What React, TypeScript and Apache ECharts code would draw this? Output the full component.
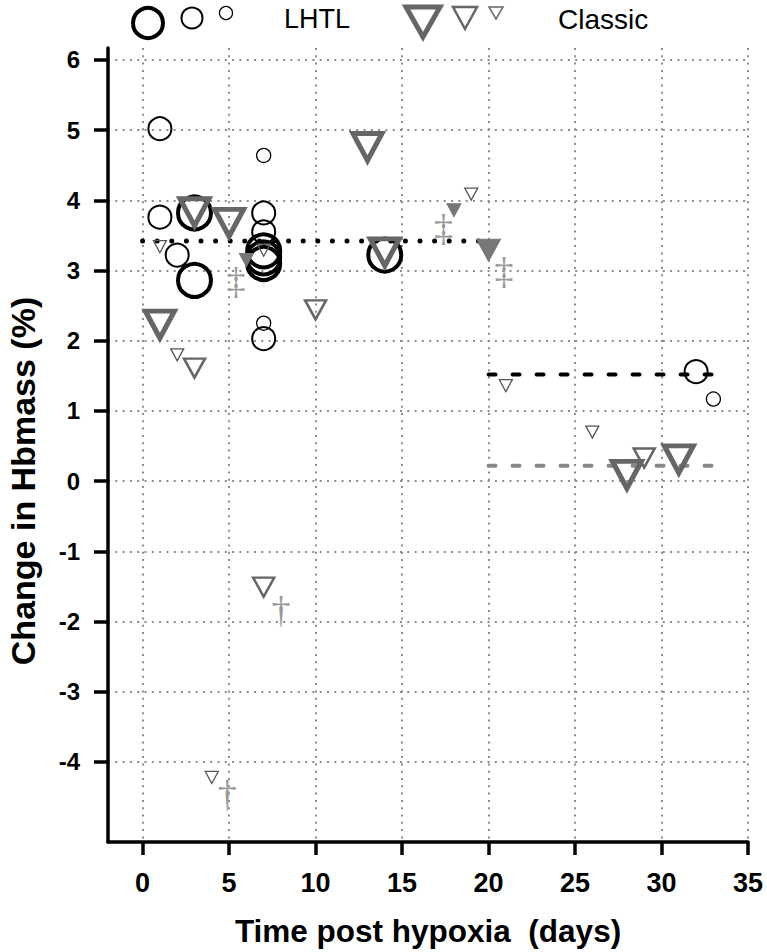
import React, { useEffect, useRef } from "react";
import * as echarts from "echarts";

// ---- data ----
const xTicks = [0, 5, 10, 15, 20, 25, 30, 35];
const yTicks = [-4, -3, -2, -1, 0, 1, 2, 3, 4, 5, 6];

const lhtlLarge = [[3, 3.82], [3, 2.86], [7, 3.28], [7, 3.18], [7, 3.1], [14, 3.22]];
const lhtlMedium = [[1, 5.02], [1, 3.76], [2, 3.22], [7, 3.82], [7, 3.55], [7, 2.03], [32, 1.56]];
const lhtlSmall = [[7, 4.64], [7, 2.25], [33, 1.17]];

const classicLarge = [[1, 2.23], [3, 3.83], [5, 3.68], [13, 4.76], [14, 3.26], [28, 0.09], [31, 0.31]];
const classicMedium = [[3, 1.61], [7, -1.51], [10, 2.44], [29, 0.33]];
const classicSmall = [[1, 3.34], [2, 1.8], [4, -4.22], [7, 3.29], [19, 4.09], [21, 1.36], [26, 0.7]];
const classicFilledSmall = [[6, 3.15], [18, 3.86]];
const classicFilledLarge = [[20, 3.29]];

const daggerSingle = [[8, -1.84], [4.9, -4.46]];
const daggerDouble = [[5.4, 2.85], [17.4, 3.6], [20.9, 2.99]];

const meanEarly = [[0, 3.42], [20, 3.42]];
const lhtlMeanLate = [[20, 1.52], [33, 1.52]];
const classicMeanLate = [[20, 0.22], [33, 0.22]];

const FONT = "Liberation Sans, Arial, sans-serif";
const GRAY = "#666666";

function circleSeries(data: number[][], size: number, width: number) {
  return {
    type: "scatter",
    data,
    symbol: "circle",
    symbolSize: size,
    silent: true,
    itemStyle: { color: "rgba(0,0,0,0)", borderColor: "#000", borderWidth: width, opacity: 1 },
    z: 3,
  };
}

function triSeries(data: number[][], size: number[], width: number, color: string, filled: boolean) {
  return {
    type: "scatter",
    data,
    symbol: "triangle",
    symbolRotate: 180,
    symbolSize: size,
    silent: true,
    itemStyle: {
      color: filled ? color : "rgba(0,0,0,0)",
      borderColor: color,
      borderWidth: width,
      opacity: 1,
    },
    z: 4,
  };
}

function glyphSeries(data: number[][], glyph: string) {
  return {
    type: "custom",
    data,
    silent: true,
    z: 5,
    renderItem: (_p: any, api: any) => {
      const pt = api.coord([api.value(0), api.value(1)]);
      return {
        type: "text",
        x: pt[0],
        y: pt[1],
        style: {
          text: glyph,
          fill: "#999999",
          fontSize: 38,
          fontFamily: "Liberation Serif, serif",
          align: "center",
          verticalAlign: "middle",
        },
      };
    },
  };
}

function lineSeries(data: number[][], color: string, width: number, dash: number[]) {
  return {
    type: "line",
    data,
    symbol: "none",
    silent: true,
    lineStyle: { color, width, type: dash, cap: "round" },
    z: 2,
  };
}

export default function App() {
  const ref = useRef<HTMLDivElement>(null);

  useEffect(() => {
    if (!ref.current) return;
    const chart = echarts.init(ref.current, null, { renderer: "svg" });
    const gridLine = { show: true, lineStyle: { color: "#8c8c8c", width: 2, type: [2, 5.3] } };

    chart.setOption({
      animation: false,
      backgroundColor: "#ffffff",
      grid: { left: 108, right: 19, top: 48, bottom: 109, containLabel: false },
      xAxis: {
        type: "value",
        min: -2,
        max: 35,
        name: "Time post hypoxia  (days)",
        nameLocation: "middle",
        nameGap: 73,
        nameTextStyle: { fontSize: 31.5, fontWeight: "bold", color: "#000", fontFamily: FONT },
        axisLine: { show: true, onZero: false, lineStyle: { color: "#000", width: 3.5 } },
        axisTick: { show: true, customValues: xTicks, length: 13, lineStyle: { color: "#000", width: 3.5 } },
        axisLabel: { customValues: xTicks, margin: 27, fontSize: 27, fontWeight: "bold", color: "#000", fontFamily: FONT },
        splitLine: gridLine,
      },
      yAxis: {
        type: "value",
        min: -5.14,
        max: 6.17,
        axisLine: { show: true, onZero: false, lineStyle: { color: "#000", width: 3.5 } },
        axisTick: { show: true, customValues: yTicks, length: 14, lineStyle: { color: "#000", width: 3.5 } },
        axisLabel: { customValues: yTicks, margin: 28, fontSize: 24, fontWeight: "bold", color: "#000", fontFamily: FONT },
        splitLine: gridLine,
      },
      graphic: [
        {
          type: "text",
          x: 23,
          y: 481,
          rotation: Math.PI / 2,
          style: {
            text: "Change in Hbmass (%)",
            fill: "#000",
            fontSize: 34,
            fontWeight: "bold",
            fontFamily: FONT,
            align: "center",
            verticalAlign: "middle",
          },
        },
        { type: "circle", shape: { cx: 148, cy: 23, r: 15 }, style: { fill: "none", stroke: "#000", lineWidth: 4 } },
        { type: "circle", shape: { cx: 192, cy: 18, r: 10.5 }, style: { fill: "none", stroke: "#000", lineWidth: 2 } },
        { type: "circle", shape: { cx: 226, cy: 13, r: 6.5 }, style: { fill: "none", stroke: "#000", lineWidth: 1.3 } },
        { type: "text", x: 284, y: 19, style: { text: "LHTL", fill: "#000", fontSize: 27, fontFamily: FONT, verticalAlign: "middle" } },
        { type: "polygon", shape: { points: [[406, 7], [440, 7], [423, 37]] }, style: { fill: "none", stroke: GRAY, lineWidth: 5 } },
        { type: "polygon", shape: { points: [[453, 7], [477, 7], [465, 29]] }, style: { fill: "none", stroke: GRAY, lineWidth: 2.5 } },
        { type: "polygon", shape: { points: [[489, 7], [503, 7], [496, 19]] }, style: { fill: "none", stroke: GRAY, lineWidth: 1.5 } },
        { type: "text", x: 558, y: 19, style: { text: "Classic", fill: "#000", fontSize: 28, fontFamily: FONT, verticalAlign: "middle" } },
      ],
      series: [
        lineSeries(meanEarly, "#000", 5, [0, 14.6]),
        lineSeries(lhtlMeanLate, "#000", 4, [7, 17]),
        lineSeries(classicMeanLate, "#888888", 4, [7, 17]),
        circleSeries(lhtlLarge, 33, 4),
        circleSeries(lhtlMedium, 23, 2),
        circleSeries(lhtlSmall, 14, 1.3),
        triSeries(classicLarge, [29, 27], 5, GRAY, false),
        triSeries(classicMedium, [21, 19], 2.5, GRAY, false),
        triSeries(classicSmall, [13, 12], 1.3, "#555555", false),
        triSeries(classicFilledSmall, [14, 13], 1, "#777777", true),
        triSeries(classicFilledLarge, [24, 22], 1, "#777777", true),
        glyphSeries(daggerSingle, "†"),
        glyphSeries(daggerDouble, "‡"),
      ],
    });
    return () => chart.dispose();
  }, []);

  return (
    <div
      ref={ref}
      style={{ position: "absolute", left: 0, top: 0, width: 767, height: 952 }}
    />
  );
}
